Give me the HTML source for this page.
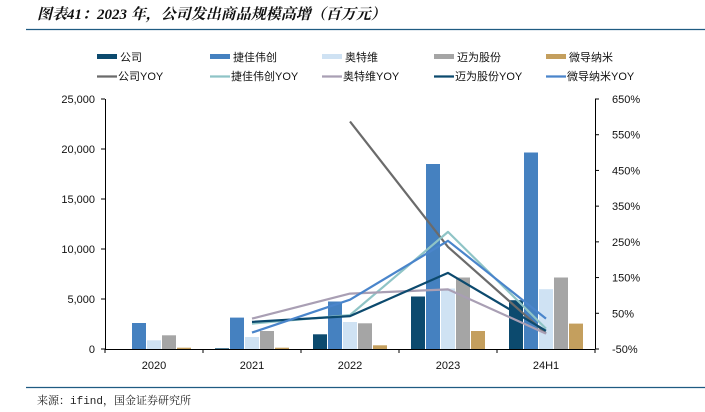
<!DOCTYPE html>
<html><head><meta charset="utf-8"><style>
html,body{margin:0;padding:0;background:#fff;}
body{width:705px;height:412px;overflow:hidden;position:relative;font-family:"Liberation Sans","Noto Sans CJK SC",sans-serif;}
#title{position:absolute;left:37px;top:3px;font-size:15px;font-style:italic;font-weight:bold;font-family:"Liberation Serif","Noto Serif CJK SC",serif;color:#111;}
#source{position:absolute;left:37px;top:392px;font-size:11px;font-family:"Liberation Mono","Noto Serif CJK SC",monospace;color:#222;}
</style></head><body>
<div id="title">图表41：2023 年，公司发出商品规模高增（百万元）</div>
<div id="source">来源：ifind，国金证券研究所</div>
<svg id="chart" width="705" height="412" style="position:absolute;left:0;top:0"></svg>
<script>
const categories = ["2020","2021","2022","2023","24H1"];
const barNames = ["公司","捷佳伟创","奥特维","迈为股份","微导纳米"];
const barValues = [
  [0, 70, 1470, 5250, 4880],
  [2600, 3140, 4750, 18500, 19650],
  [870, 1200, 2700, 6050, 5980],
  [1370, 1800, 2570, 7150, 7150],
  [130, 130, 370, 1800, 2540]
];
const lineNames = ["公司YOY","捷佳伟创YOY","奥特维YOY","迈为股份YOY","微导纳米YOY"];
const lineValues = [
  [null, null, 587, 236, -7],
  [null, 21, 45, 278, 7],
  [null, 35, 105, 117, -7],
  [null, 26, 42, 163, 1],
  [null, -4, 88, 253, 35]
];
const leftTicks = [0, 5000, 10000, 15000, 20000, 25000];
const leftTickLabels = ["0","5,000","10,000","15,000","20,000","25,000"];
const rightTicks = [-50, 50, 150, 250, 350, 450, 550, 650];
const rightTickLabels = ["-50%","50%","150%","250%","350%","450%","550%","650%"];

const barColors = ["#0c4a6e","#4581c0","#cfe2f3","#a5a5a5","#c49f5e"];
const lineColors = ["#6b6b6b","#8fc4c6","#a99fb4","#0c4a6e","#4a85cb"];
const NS = "http://www.w3.org/2000/svg";
const svg = document.getElementById("chart");
const X0 = 105, X1 = 595, Y0 = 349, Y1 = 99;
const band = (X1 - X0) / categories.length;
function yL(v){ return Y0 - (v - 0) / (25000 - 0) * (Y0 - Y1); }
function yR(v){ return Y0 - (v + 50) / 700 * (Y0 - Y1); }
function xC(i){ return X0 + band * (i + 0.5); }
function mk(tag, attrs){ const e = document.createElementNS(NS, tag); for (const k in attrs) e.setAttribute(k, attrs[k]); svg.appendChild(e); return e; }

let r1 = mk("line",{x1:26,y1:29.5,x2:705,y2:29.5,stroke:"#1f5b82","stroke-width":1.2});


let r2 = mk("line",{x1:26,y1:387.5,x2:705,y2:387.5,stroke:"#1f5b82","stroke-width":1.2});



const bw = 14, gap = 1, groupW = 5*bw + 4*gap;
barValues.forEach((series, s) => {
  series.forEach((v, i) => {
    const x = xC(i) - groupW/2 + s*(bw+gap);
    const y = yL(v);
    const r = mk("rect",{x:x,y:y,width:bw,height:Math.max(0,Y0-y),fill:barColors[s]});
    
    
  });
});

lineValues.forEach((series, s) => {
  let pts = [];
  series.forEach((v, i) => { if (v !== null) pts.push(xC(i).toFixed(1) + "," + yR(v).toFixed(1)); });
  const p = mk("polyline",{points:pts.join(" "),fill:"none",stroke:lineColors[s],"stroke-width":2.2,"stroke-linejoin":"round"});
  
  
});

let ax = mk("line",{x1:X0,y1:Y0+0.5,x2:X1,y2:Y0+0.5,stroke:"#000","stroke-width":1});


let la = mk("line",{x1:X0+0.5,y1:Y1,x2:X0+0.5,y2:Y0,stroke:"#000","stroke-width":1});


let ra = mk("line",{x1:X1+0.5,y1:Y1,x2:X1+0.5,y2:Y0,stroke:"#000","stroke-width":1});


for (let i = 0; i <= categories.length; i++) {
  const x = X0 + band*i;
  mk("line",{x1:x,y1:Y0,x2:x,y2:Y0+4,stroke:"#000","stroke-width":1});
}
categories.forEach((c, i) => {
  const t = mk("text",{x:xC(i),y:Y0+20,"text-anchor":"middle","font-size":11,fill:"#111"});
  t.textContent = c;
  
  
});
leftTicks.forEach((v, i) => {
  const y = yL(v);
  mk("line",{x1:X0-4,y1:y,x2:X0,y2:y,stroke:"#000","stroke-width":1});
  const t = mk("text",{x:X0-10,y:y+4,"text-anchor":"end","font-size":11,fill:"#111"});
  t.textContent = leftTickLabels[i];
  
  
});
rightTicks.forEach((v, i) => {
  const y = yR(v);
  mk("line",{x1:X1,y1:y,x2:X1+4,y2:y,stroke:"#000","stroke-width":1});
  const t = mk("text",{x:X1+17,y:y+4,"text-anchor":"start","font-size":11,fill:"#111"});
  t.textContent = rightTickLabels[i];
  
  
});

const legX = [97, 210, 322, 434, 546];
barNames.forEach((n, i) => {
  const sw = mk("rect",{x:legX[i],y:54,width:20,height:5,fill:barColors[i]});
  
  
  const t = mk("text",{x:legX[i]+23,y:61,"font-size":11,fill:"#111"});
  t.textContent = n;
  
  
});
lineNames.forEach((n, i) => {
  const sw = mk("line",{x1:legX[i],y1:76.5,x2:legX[i]+20,y2:76.5,stroke:lineColors[i],"stroke-width":2.2});
  
  
  const t = mk("text",{x:legX[i]+21,y:80,"font-size":11,fill:"#111"});
  t.textContent = n;
  
  
});
</script>
</body></html>
